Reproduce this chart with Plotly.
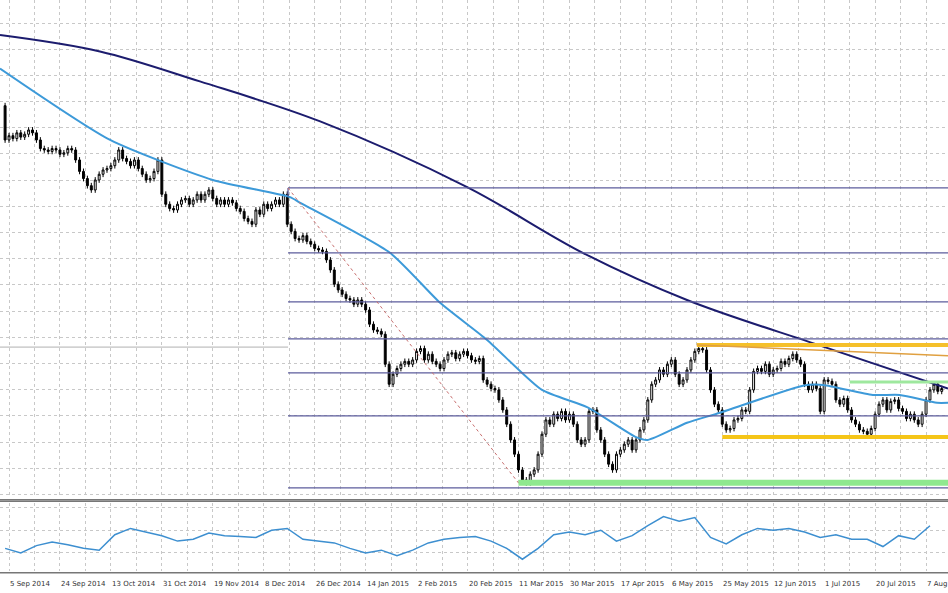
import plotly.graph_objects as go

# ---- data (EUR/USD daily) ----
first_open = 1.326
closes = [
 1.302,1.305,1.303,1.307,1.304,1.306,1.309,1.307,1.302,1.296,
 1.295,1.294,1.296,1.295,1.292,1.293,1.296,1.295,1.288,1.280,
 1.275,1.270,1.267,1.274,1.278,1.281,1.282,1.284,1.288,1.295,
 1.289,1.287,1.284,1.288,1.282,1.278,1.274,1.275,1.280,1.288,
 1.264,1.257,1.254,1.253,1.257,1.260,1.261,1.257,1.260,1.264,
 1.260,1.264,1.267,1.261,1.257,1.260,1.257,1.260,1.258,1.254,
 1.252,1.247,1.245,1.243,1.253,1.250,1.257,1.254,1.257,1.260,
 1.257,1.264,1.243,1.238,1.233,1.232,1.235,1.231,1.229,1.226,
 1.225,1.224,1.218,1.211,1.201,1.197,1.194,1.191,1.190,1.187,
 1.190,1.187,1.183,1.173,1.169,1.168,1.166,1.145,1.131,1.138,
 1.142,1.145,1.147,1.145,1.148,1.154,1.156,1.148,1.152,1.147,
 1.145,1.142,1.148,1.152,1.153,1.149,1.152,1.154,1.151,1.148,
 1.147,1.149,1.134,1.131,1.128,1.127,1.120,1.113,1.103,1.092,
 1.082,1.071,1.064,1.062,1.068,1.071,1.082,1.096,1.106,1.103,
 1.110,1.107,1.112,1.106,1.110,1.103,1.092,1.089,1.092,1.112,
 1.113,1.099,1.092,1.082,1.075,1.071,1.082,1.085,1.089,1.092,
 1.085,1.092,1.099,1.106,1.120,1.131,1.134,1.141,1.138,1.145,
 1.148,1.138,1.131,1.134,1.141,1.148,1.154,1.156,1.155,1.141,
 1.127,1.117,1.113,1.103,1.099,1.100,1.106,1.107,1.113,1.112,
 1.127,1.140,1.142,1.140,1.145,1.138,1.141,1.142,1.147,1.145,
 1.149,1.152,1.148,1.145,1.131,1.127,1.131,1.128,1.112,1.134,
 1.133,1.131,1.120,1.117,1.121,1.113,1.106,1.103,1.099,1.098,
 1.096,1.100,1.110,1.117,1.120,1.113,1.119,1.120,1.114,1.112,
 1.107,1.110,1.106,1.103,1.110,1.120,1.127,1.131,1.126,1.128,
]
wick = 0.002

ma50_days = [-1.3,26.8,53,72.7,75.3,98.2,111,123,137,148.5,161,164,174,182.4,203.6,208.7,221.4,228.3,237.8,240.6]
ma50_vals = [1.352,1.302,1.274,1.262,1.258,1.223,1.188,1.162,1.127,1.115,1.094,1.092,1.104,1.111,1.130,1.1305,1.1235,1.1235,1.118,1.118]
ma200_days = [-1.3,24.2,49.7,80.4,117.9,147.4,174,208,240.6]
ma200_vals = [1.3755,1.364,1.343,1.315,1.269,1.223,1.190,1.158,1.128]

fib_start = 72.2
fib_levels = [1.2684,1.2229,1.1886,1.1627,1.1389,1.1088,1.0584]
diag_days = [72.2,131.4]
diag_vals = [1.2684,1.0605]

osc_days = list(range(0,240,4))
osc_vals = [30,25,33,37,34,30,28,45,52,48,44,38,40,47,44,43,42,50,52,40,
            38,36,30,25,28,22,28,36,40,42,43,38,30,18,30,45,48,45,50,38,
            44,55,65,60,64,42,35,45,52,50,52,48,42,45,40,40,32,44,40,55]

tick_days = [1,14,27,40,53,66,79,92,105,118,131,144,157,170,183,196,209,222,235]
tick_labels = ["5 Sep 2014","24 Sep 2014","13 Oct 2014","31 Oct 2014","19 Nov 2014","8 Dec 2014",
               "26 Dec 2014","14 Jan 2015","2 Feb 2015","20 Feb 2015","11 Mar 2015","30 Mar 2015",
               "17 Apr 2015","6 May 2015","25 May 2015","12 Jun 2015","1 Jul 2015","20 Jul 2015","7 Aug 2015"]

XMIN, XMAX = -1.3, 240.6
# -------------------------------------------------

opens = [first_open] + closes[:-1]
highs = [max(o, c) + wick for o, c in zip(opens, closes)]
lows = [min(o, c) - wick for o, c in zip(opens, closes)]
days = list(range(len(closes)))

fig = go.Figure()
fig.add_trace(go.Candlestick(
    x=days, open=opens, high=highs, low=lows, close=closes,
    increasing=dict(line=dict(color="black", width=1), fillcolor="white"),
    decreasing=dict(line=dict(color="black", width=1), fillcolor="black"),
    whiskerwidth=0, xaxis="x", yaxis="y", showlegend=False))

fig.add_trace(go.Scatter(x=ma200_days, y=ma200_vals, mode="lines", line=dict(color="#1c1c6e", width=2), line_shape="spline", line_smoothing=1.0, showlegend=False))
fig.add_trace(go.Scatter(x=ma50_days, y=ma50_vals, mode="lines", line=dict(color="#3d9ad9", width=2), line_shape="spline", line_smoothing=0.6, showlegend=False))

for lv in fib_levels:
    fig.add_trace(go.Scatter(x=[fib_start, XMAX], y=[lv, lv], mode="lines", line=dict(color="#5c5c9c", width=1.3), showlegend=False))
fig.add_trace(go.Scatter(x=[fib_start, fib_start], y=[fib_levels[0], fib_levels[0]-0.006], mode="lines", line=dict(color="#5c5c9c", width=1.3), showlegend=False))
fig.add_trace(go.Scatter(x=diag_days, y=diag_vals, mode="lines", line=dict(color="#c87070", width=1, dash="dot"), showlegend=False))
fig.add_trace(go.Scatter(x=[XMIN, fib_start], y=[1.157, 1.157], mode="lines", line=dict(color="#b0b0b0", width=1), showlegend=False))

# support / resistance bands
fig.add_trace(go.Scatter(x=[131, XMAX], y=[1.062, 1.062], mode="lines", line=dict(color="#8fe88f", width=6), showlegend=False))
fig.add_trace(go.Scatter(x=[183, XMAX], y=[1.094, 1.094], mode="lines", line=dict(color="#f5c518", width=4), showlegend=False))
fig.add_trace(go.Scatter(x=[215.5, XMAX], y=[1.1326, 1.1326], mode="lines", line=dict(color="#9ee89e", width=3), showlegend=False))
fig.add_trace(go.Scatter(x=[176.5, XMAX], y=[1.1585, 1.1585], mode="lines", line=dict(color="#f5c02a", width=4), showlegend=False))
fig.add_trace(go.Scatter(x=[176.5, XMAX], y=[1.1585, 1.151], mode="lines", line=dict(color="#e0a040", width=1.5), showlegend=False))

fig.add_trace(go.Scatter(x=osc_days, y=osc_vals, mode="lines", line=dict(color="#3d8fd0", width=1.5), xaxis="x2", yaxis="y2", showlegend=False))

for d, t in zip(tick_days, tick_labels):
    fig.add_annotation(x=d, xref="x2", y=-0.012, yref="paper", text=t, showarrow=False,
                       xanchor="left", yanchor="top", xshift=-1, font=dict(size=7, color="#333"))

# panel separator (double line) and bottom line
for yy in (0.125, 0.122):
    fig.add_shape(type="line", xref="paper", yref="paper", x0=0, x1=1, y0=yy, y1=yy, line=dict(color="#777", width=1.5))
fig.add_shape(type="line", xref="paper", yref="paper", x0=0, x1=1, y0=-0.003, y1=-0.003, line=dict(color="#777", width=1.5))

grid = dict(showgrid=True, gridcolor="#c8c8c8", griddash="dot", gridwidth=1)
fig.update_layout(
    width=948, height=593, margin=dict(l=0, r=0, t=0, b=22),
    paper_bgcolor="white", plot_bgcolor="white",
    font=dict(family="DejaVu Sans", size=7, color="#333"),
    xaxis=dict(range=[XMIN, XMAX], domain=[0, 1], anchor="y", rangeslider=dict(visible=False),
               showticklabels=False, tick0=1, dtick=6.5, zeroline=False, **grid),
    yaxis=dict(domain=[0.128, 1], range=[1.0514, 1.40], showticklabels=False, tick0=1.3839, dtick=0.01834,
               zeroline=False, **grid),
    xaxis2=dict(range=[XMIN, XMAX], anchor="y2", showticklabels=False, tick0=1, dtick=6.5,
                zeroline=False, **grid),
    yaxis2=dict(domain=[0, 0.119], range=[5, 80], showticklabels=False, dtick=25, zeroline=False, **grid),
)
fig.write_html("out.html", config={"displayModeBar": False},
               post_script="document.body.style.margin='0';document.body.style.overflow='hidden';")
